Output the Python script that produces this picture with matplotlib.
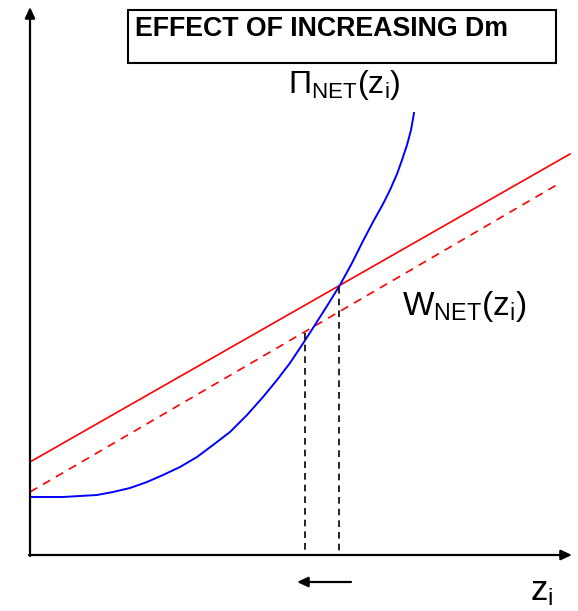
import matplotlib
matplotlib.use("Agg")
import matplotlib.pyplot as plt
from matplotlib.patches import Rectangle

plt.rcParams["font.family"] = ["Liberation Sans", "DejaVu Sans"]
plt.rcParams["mathtext.fontset"] = "custom"
plt.rcParams["mathtext.rm"] = "Liberation Sans"
plt.rcParams["mathtext.it"] = "Liberation Sans"
plt.rcParams["mathtext.bf"] = "Liberation Sans:bold"

# sketch coordinates (pixel-like units, y grows downwards)
# net profit curve Pi_NET(z_i)
pi_x = [32, 47, 63, 97, 113, 130, 147, 163, 180, 197, 213, 230, 247, 263, 277, 290,
        302, 313, 327, 340, 352, 363, 373, 383, 390, 397, 402, 407, 411, 414]
pi_y = [497, 497, 497, 495, 492, 488, 482, 475, 467, 457, 445, 432, 415, 397, 380, 363,
        345, 328, 306, 285, 263, 241, 222, 204, 190, 174, 160, 145, 130, 113]

# net wage line W_NET(z_i): before (solid) and after increasing Dm (dashed)
w_x = [30, 570]
w_y = [462, 154]
w_new_x = [30, 560]
w_new_y = [492, 183]

# equilibria
eq_x = [305, 339]
eq_y = [333, 287]
axis_y = 555

fig = plt.figure(figsize=(5.78, 6.11), dpi=100)
ax = fig.add_axes([0, 0, 1, 1])
ax.set_xlim(0, 578)
ax.set_ylim(611, 0)
ax.axis("off")

# axes with arrows
arrow = dict(arrowstyle="-|>,head_length=0.65,head_width=0.3", lw=1.6,
             color="black", shrinkA=0, shrinkB=0)
ax.annotate("", xy=(30, 7), xytext=(30, axis_y + 1), arrowprops=arrow)
ax.annotate("", xy=(572, axis_y), xytext=(29, axis_y), arrowprops=arrow)

ax.plot(w_x, w_y, color="red", lw=1.2)
ax.plot(w_new_x, w_new_y, color="red", lw=1.2, ls=(0, (5, 4)))
ax.plot(pi_x, pi_y, color="blue", lw=1.4, solid_joinstyle="round")

for x, y in zip(eq_x, eq_y):
    ax.plot([x, x], [y, axis_y], color="black", lw=1.2, ls=(0, (4, 3)))

# shift arrow
ax.annotate("", xy=(297, 582), xytext=(351, 582), arrowprops=arrow)

# labels
ax.text(288, 93, r"$\Pi_{\mathrm{NET}}(\mathrm{z}_{\mathrm{i}})$", fontsize=23,
        ha="left", va="baseline")
ax.text(402, 315, r"$\mathrm{W}_{\mathrm{NET}}(\mathrm{z}_{\mathrm{i}})$", fontsize=24,
        ha="left", va="baseline")
ax.text(530, 600, r"$\mathrm{z}_{\mathrm{i}}$", fontsize=25, ha="left", va="baseline")

ax.add_patch(Rectangle((128, 10), 428, 53, fill=False, lw=1.5, edgecolor="black"))
ax.text(135, 36, "EFFECT OF INCREASING Dm", fontsize=19.3, fontweight="bold",
        ha="left", va="baseline")

fig.savefig("out.png", dpi=100)
